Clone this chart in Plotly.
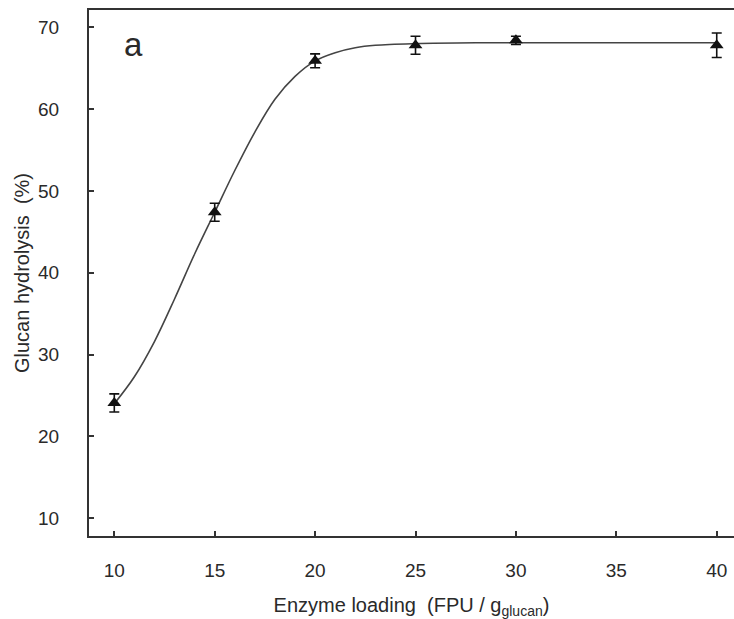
import plotly.graph_objects as go

# measured data (Enzyme loading vs glucan hydrolysis)
loading = [10, 15, 20, 25, 30, 40]
hydrolysis = [24.1, 47.4, 65.9, 67.8, 68.4, 67.8]
err = [1.1, 1.1, 0.85, 1.1, 0.5, 1.5]

# fitted curve
curve_x = [10, 11, 12, 13, 14, 15, 16, 17, 18, 19, 20, 21, 22, 23, 25, 28, 32, 40]
curve_y = [24.0, 27.3, 31.6, 36.8, 42.3, 47.4, 52.5, 57.2, 61.2, 64.0, 65.9, 66.9,
           67.5, 67.8, 68.0, 68.1, 68.1, 68.1]

x_ticks = [10, 15, 20, 25, 30, 35, 40]
y_ticks = [10, 20, 30, 40, 50, 60, 70]

FONT = "Liberation Sans, Arial, Helvetica, sans-serif"
TXT = "#2a2a2a"

fig = go.Figure()
fig.add_trace(go.Scatter(
    x=curve_x, y=curve_y, mode="lines",
    line=dict(color="#444444", width=1.6, shape="spline", smoothing=1.0),
    hoverinfo="skip", showlegend=False))
fig.add_trace(go.Scatter(
    x=loading, y=hydrolysis, mode="markers",
    marker=dict(symbol="triangle-up", size=12, color="#111111"),
    error_y=dict(type="data", array=err, visible=True, color="#111111", thickness=1.6, width=5),
    showlegend=False))

fig.add_annotation(x=0.069, y=0.935, xref="paper", yref="paper", text="a", showarrow=False,
                   font=dict(family=FONT, size=33, color=TXT), xanchor="center", yanchor="middle")

fig.update_layout(
    width=734, height=619,
    margin=dict(l=89, r=0, t=10, b=83),
    paper_bgcolor="white", plot_bgcolor="white",
    font=dict(family=FONT, size=20, color=TXT),
    xaxis=dict(range=[8.74, 40.86], tickvals=x_ticks, ticks="inside", ticklen=5, tickwidth=1.5,
               tickcolor="#333333", showline=True, linewidth=2, linecolor="#333333", mirror=True,
               showgrid=False, zeroline=False, ticklabelstandoff=16,
               tickfont=dict(size=19, color=TXT),
               title=dict(text="Enzyme loading  (FPU / g<sub>glucan</sub>)", standoff=18,
                          font=dict(size=20, color=TXT))),
    yaxis=dict(range=[7.84, 72.11], tickvals=y_ticks, ticks="inside", ticklen=5, tickwidth=1.5,
               tickcolor="#333333", showline=True, linewidth=2, linecolor="#333333",
               showgrid=False, zeroline=False, ticklabelstandoff=24,
               tickfont=dict(size=19, color=TXT),
               title=dict(text="Glucan hydrolysis  (%)", standoff=3,
                          font=dict(size=20, color=TXT))),
)

fig.write_html("out.html")
